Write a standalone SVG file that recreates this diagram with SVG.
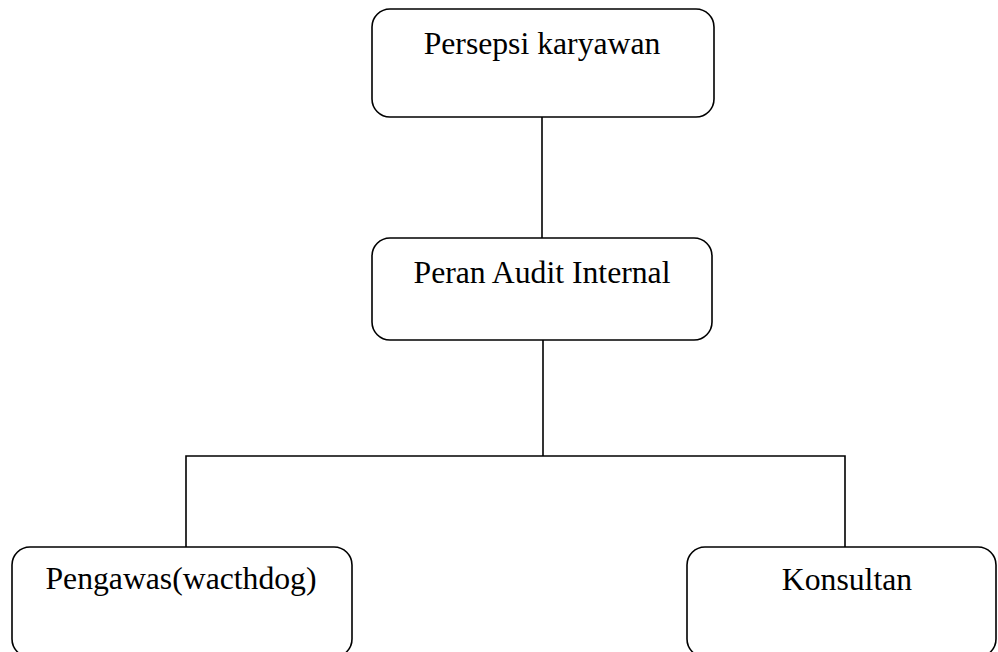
<svg xmlns="http://www.w3.org/2000/svg" width="998" height="652" viewBox="0 0 998 652">
<style>
.box{fill:#fff;stroke:#000;stroke-width:1.6}
.lbl{font-family:"Liberation Serif","Times New Roman",serif;font-size:31.7px;fill:#000;text-anchor:middle}
.con{fill:none;stroke:#000;stroke-width:1.6}
</style>
<rect width="998" height="652" fill="#fff"/>
<g id="connectors">
<line class="con" x1="542" y1="117" x2="542" y2="238"/>
<line class="con" x1="543" y1="340" x2="543" y2="456"/>
<polyline class="con" points="186,547 186,456 845,456 845,547"/>
</g>
<g id="node-persepsi">
<rect class="box" x="372" y="9" width="342" height="108" rx="18"/>
<text class="lbl" x="542" y="54">Persepsi karyawan</text>
</g>
<g id="node-peran">
<rect class="box" x="372" y="238" width="340" height="102" rx="18"/>
<text class="lbl" x="542" y="283">Peran Audit Internal</text>
</g>
<g id="node-pengawas">
<rect class="box" x="12" y="547" width="340" height="110" rx="18"/>
<text class="lbl" x="181" y="589">Pengawas(wacthdog)</text>
</g>
<g id="node-konsultan">
<rect class="box" x="687" y="547" width="309" height="110" rx="18"/>
<text class="lbl" x="847" y="590">Konsultan</text>
</g>
</svg>
